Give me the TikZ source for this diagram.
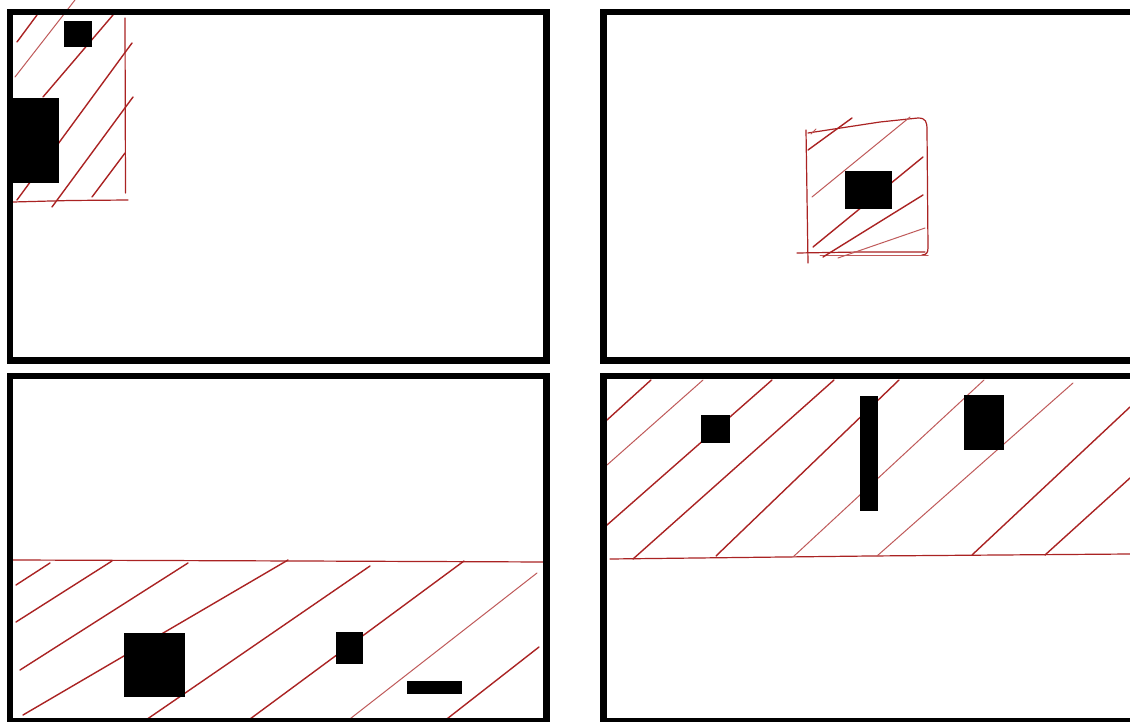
\documentclass[tikz,border=0pt]{standalone}
\begin{document}
\begin{tikzpicture}[x=1pt,y=-1pt,
  panel/.style={draw=black,line width=6.5pt},
  blk/.style={fill=black,draw=none},
  hatch/.style={draw=hatchred,line width=1.4pt,line cap=round},
  faint/.style={draw=hatchred!75,line width=1pt,line cap=round},
  outline/.style={draw=hatchred,line width=1.2pt,line cap=round}]
\definecolor{hatchred}{RGB}{170,35,35}
\useasboundingbox (0,0) rectangle (1130,722);
\clip (0,0) rectangle (1130,722);
\fill[white] (0,0) rectangle (1130,722);

% ---------- Top-left panel ----------
\draw[outline] (125,18) -- (125.5,193);
\draw[outline] (13,202) -- (70,200.5) -- (128,200);
\draw[hatch] (17,42) -- (37,15);
\draw[faint] (15,77) -- (75,0);
\draw[hatch] (43,97) -- (113,15);
\draw[hatch] (17,200) -- (132,43);
\draw[hatch] (52,207) -- (133,97);
\draw[hatch] (92,197) -- (125,153);
\fill[blk] (64,21) rectangle (92,47);
\fill[blk] (12,98) rectangle (59,183);

% ---------- Top-right panel ----------
\draw[outline] (806,130) -- (808,263);
\draw[outline] (808,133) -- (880,122) -- (918,118) .. controls (926,118) and (927,122) .. (927,130) -- (928,248) .. controls (928,253) and (926,255) .. (922,255);
\draw[outline] (797,253) -- (860,252) -- (925,252);
\draw[faint] (820,256) -- (928,256);
\draw[hatch] (808,150) -- (852,118);
\draw[faint] (811,134) -- (816,129);
\draw[faint] (812,197) -- (910,117);
\draw[hatch] (813,247) -- (923,157);
\draw[hatch] (823,257) -- (923,195);
\draw[faint] (838,258) -- (925,228);
\fill[blk] (845,171) rectangle (892,209);

% ---------- Bottom-left panel ----------
\draw[outline] (13,560) -- (300,561) -- (546,562);
\draw[hatch] (16,585) -- (50,563);
\draw[hatch] (16,622) -- (112,561);
\draw[hatch] (20,670) -- (188,563);
\draw[hatch] (23,715) -- (288,560);
\draw[hatch] (143,722) -- (370,566);
\draw[hatch] (246,722) -- (464,561);
\draw[faint] (346,722) -- (537,573);
\draw[hatch] (443,722) -- (539,647);
\fill[blk] (124,633) rectangle (185,697);
\fill[blk] (336,632) rectangle (363,664);
\fill[blk] (407,681) rectangle (462,694);

% ---------- Bottom-right panel ----------
\draw[outline] (610,559) -- (870,556) -- (1130,554);
\draw[hatch] (607,420) -- (651,380);
\draw[faint] (607,465) -- (703,380);
\draw[hatch] (607,525) -- (772,380);
\draw[hatch] (633,559) -- (834,380);
\draw[hatch] (716,556) -- (899,380);
\draw[faint] (793,557) -- (984,380);
\draw[faint] (877,556) -- (1073,383);
\draw[hatch] (972,555) -- (1130,407);
\draw[hatch] (1045,555) -- (1130,478);
\fill[blk] (701,415) rectangle (730,443);
\fill[blk] (860,396) rectangle (878,511);
\fill[blk] (964,395) rectangle (1004,450);

% ---------- Panel frames ----------
\draw[panel] (10,12) rectangle (546.5,360.5);
\draw[panel] (603.5,12) rectangle (1145,360.5);
\draw[panel] (10,376) rectangle (546.5,721.5);
\draw[panel] (603.5,376) rectangle (1145,721.5);
\end{tikzpicture}
\end{document}
